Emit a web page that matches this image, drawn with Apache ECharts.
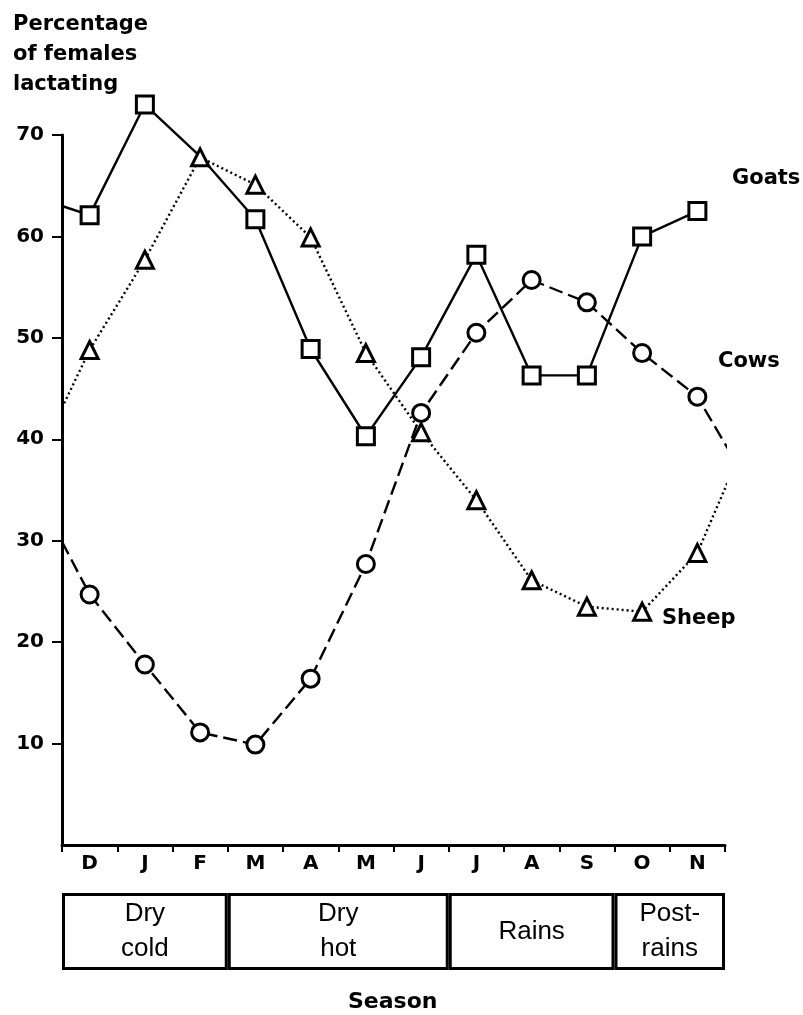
<!DOCTYPE html>
<html>
<head>
<meta charset="utf-8">
<script src="https://cdn.jsdelivr.net/npm/echarts@6/dist/echarts.min.js"></script>
<style>
html, body { margin: 0; padding: 0; background: #fff; }
#chart { width: 803px; height: 1015px; }
</style>
</head>
<body>
<div id="chart"></div>
<script>
const months = ['D', 'J', 'F', 'M', 'A', 'M', 'J', 'J', 'A', 'S', 'O', 'N'];
const yTicks = [10, 20, 30, 40, 50, 60, 70];

// percentage of females lactating, Dec .. Nov
const goats = [62.1, 73, 67.9, 61.7, 48.9, 40.3, 48.1, 58.2, 46.3, 46.3, 60, 62.5];
const sheep = [48.8, 57.7, 67.8, 65.1, 59.9, 48.5, 40.7, 34, 26.1, 23.5, 23, 28.8];
const cows = [24.7, 17.8, 11.1, 9.9, 16.4, 27.7, 42.6, 50.5, 55.7, 53.5, 48.5, 44.2];

// where the curves meet the frame: at the y axis and just past N
const goatsStart = 63;
const sheepStart = 43.1, sheepEnd = 37.7;
const cowsStart = 29.9, cowsEnd = 37.7;
const endX = 11.7;

// goats F point sits under the sheep triangle
const goatsHidden = [2];

const seasons = ['Dry\ncold', 'Dry\nhot', 'Rains', 'Post-\nrains'];
const seasonMonths = [3, 4, 3, 2];

const FONT = 'DejaVu Sans';

function points(vals, start, end, hidden) {
    const out = [];
    if (start != null) out.push({ value: [-0.5, start], symbol: 'none' });
    vals.forEach(function (v, i) {
        if (hidden && hidden.indexOf(i) >= 0) out.push({ value: [i, v], symbol: 'none' });
        else out.push([i, v]);
    });
    if (end != null) out.push({ value: [endX, end], symbol: 'none' });
    return out;
}

function lineSeries(name, data, symbol, dash, z) {
    return {
        name: name,
        type: 'line',
        xAxisIndex: 1,
        yAxisIndex: 0,
        data: data,
        symbol: symbol,
        symbolSize: 17,
        showAllSymbol: true,
        clip: false,
        z: z,
        lineStyle: { color: '#000', width: 2.4, type: dash },
        itemStyle: { color: '#fff', borderColor: '#000', borderWidth: 3 }
    };
}

const seasonSeries = seasons.map(function (s, i) {
    return {
        type: 'bar',
        xAxisIndex: 2,
        yAxisIndex: 1,
        stack: 'season',
        barWidth: '100%',
        data: [seasonMonths[i]],
        itemStyle: { color: '#fff', borderColor: '#000', borderWidth: 3 },
        label: {
            show: true,
            position: 'inside',
            formatter: s,
            color: '#000',
            fontFamily: 'Liberation Sans',
            fontSize: 26,
            lineHeight: 35
        }
    };
});

const option = {
    backgroundColor: '#fff',
    animation: false,
    grid: [
        { left: 62, right: 78, top: 135, bottom: 170 },
        { left: 62, right: 78, top: 893, height: 77 }
    ],
    xAxis: [
        {
            gridIndex: 0,
            type: 'category',
            data: months,
            boundaryGap: true,
            axisLine: { lineStyle: { color: '#000', width: 3 } },
            axisTick: { show: true, length: 7, lineStyle: { color: '#000', width: 2 } },
            axisLabel: { color: '#000', fontFamily: FONT, fontWeight: 'bold', fontSize: 20, margin: 9 },
            splitLine: { show: false }
        },
        { gridIndex: 0, type: 'value', min: -0.5, max: 11.5, show: false },
        { gridIndex: 1, type: 'value', min: 0, max: 12, show: false }
    ],
    yAxis: [
        {
            gridIndex: 0,
            type: 'value',
            min: 0,
            max: 70,
            interval: 10,
            axisLine: { show: true, onZero: false, lineStyle: { color: '#000', width: 3 } },
            axisTick: { show: true, length: 10, customValues: yTicks, lineStyle: { color: '#000', width: 2 } },
            axisLabel: { color: '#000', fontFamily: FONT, fontWeight: 'bold', fontSize: 20, margin: 18, customValues: yTicks },
            splitLine: { show: false }
        },
        { gridIndex: 1, type: 'category', data: ['season'], show: false }
    ],
    graphic: [
        {
            type: 'text', left: 13, top: 10,
            style: { text: 'Percentage\nof females\nlactating', fill: '#000', fontFamily: FONT, fontWeight: 'bold', fontSize: 21, lineHeight: 30 }
        },
        { type: 'text', left: 732, top: 168, style: { text: 'Goats', fill: '#000', fontFamily: FONT, fontWeight: 'bold', fontSize: 21 } },
        { type: 'text', left: 718, top: 351, style: { text: 'Cows', fill: '#000', fontFamily: FONT, fontWeight: 'bold', fontSize: 21 } },
        { type: 'text', left: 662, top: 608, style: { text: 'Sheep', fill: '#000', fontFamily: FONT, fontWeight: 'bold', fontSize: 21 } },
        { type: 'text', left: 348, top: 991, style: { text: 'Season', fill: '#000', fontFamily: FONT, fontWeight: 'bold', fontSize: 22 } }
    ],
    series: [
        lineSeries('Cows', points(cows, cowsStart, cowsEnd), 'circle', [14, 6], 2),
        lineSeries('Goats', points(goats, goatsStart, null, goatsHidden), 'rect', 'solid', 3),
        lineSeries('Sheep', points(sheep, sheepStart, sheepEnd), 'triangle', [2, 3], 4)
    ].concat(seasonSeries)
};

echarts.init(document.getElementById('chart')).setOption(option);
</script>
</body>
</html>
